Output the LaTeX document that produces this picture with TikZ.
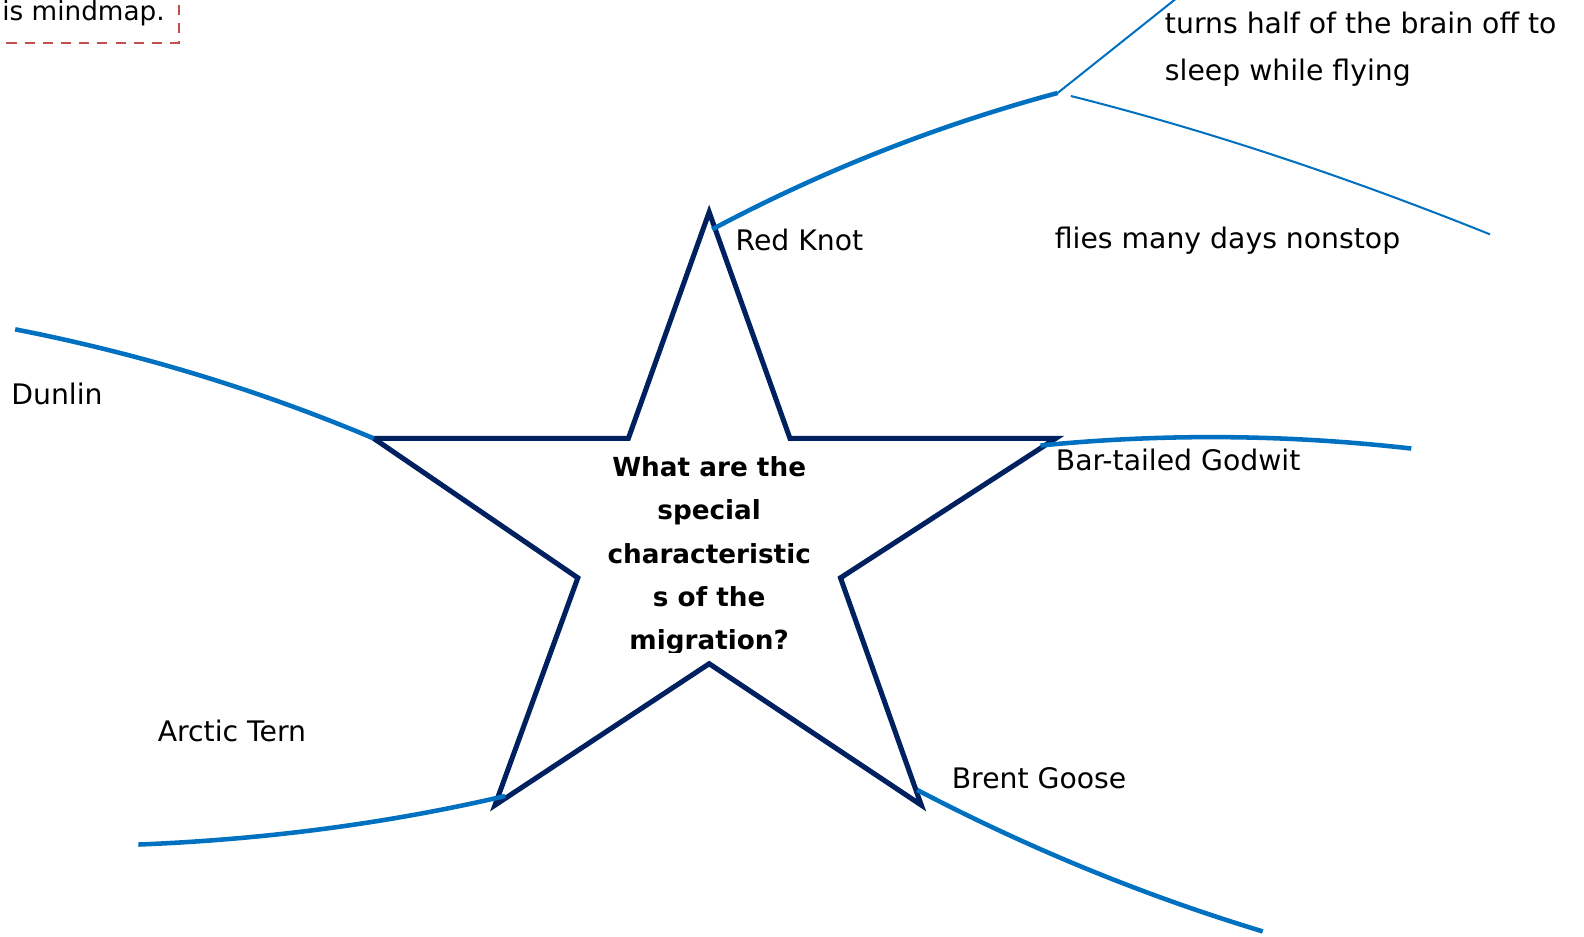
\documentclass[tikz,border=0pt]{standalone}
\usepackage{fontspec}
\setmainfont{DejaVu Sans}
\usetikzlibrary{calc}
\usetikzlibrary{positioning}
\definecolor{branchblue}{RGB}{0,112,192}
\definecolor{starnavy}{RGB}{0,32,96}
\definecolor{notered}{RGB}{192,80,77}

\begin{document}
\begin{tikzpicture}[x=1pt,y=-1pt, every node/.style={font=\fontsize{28}{46}\selectfont}]
    \tikzset{branch/.style={draw=branchblue,line width=4.5pt}}
    \tikzset{twig/.style={draw=branchblue,line width=2pt}}
    \tikzset{starline/.style={draw=starnavy,line width=5pt,line join=miter}}
    \tikzset{leaf/.style={anchor=base west,inner sep=0pt}}
    \tikzset{question/.style={anchor=north,inner sep=0pt,align=center,font=\fontsize{26}{42.75}\selectfont\bfseries}}
    \tikzset{noteframe/.style={draw=notered,line width=2pt,dash pattern=on 10pt off 8pt,inner xsep=14pt,inner ysep=17pt,font=\fontsize{26}{40}\selectfont}}
    \useasboundingbox (0,0) rectangle (1568,927);
    \clip (0,0) rectangle (1568,927);

    % Star
    \coordinate (sTop) at (702,210);
    \coordinate (sUL) at (622,434);
    \coordinate (sLeft) at (370,434);
    \coordinate (sLL) at (572,572);
    \coordinate (sBotL) at (490,797);
    \coordinate (sBot) at (702,657);
    \coordinate (sBotR) at (912,797);
    \coordinate (sLR) at (832,572);
    \coordinate (sRight) at (1045,434);
    \coordinate (sUR) at (782,434);
    \draw[starline] (sTop) -- (sUL) -- (sLeft) -- (sLL) -- (sBotL) -- (sBot)
        -- (sBotR) -- (sLR) -- (sRight) -- (sUR) -- cycle;

    \begin{scope}
      \clip (560,440) rectangle (845,646);
      \node[question] (center) at (702,452) {What are the\\special\\characteristic\\s of the\\migration?};
    \end{scope}

    % Branches
    \coordinate (knotStart) at (705,227);
    \coordinate (knotFork) at (1047,92);
    \coordinate (dunlinEnd) at (15,326);
    \coordinate (godwitStart) at (1030,441);
    \coordinate (godwitEnd) at (1397,444);
    \coordinate (ternStart) at (500,788);
    \coordinate (ternEnd) at (137,836);
    \coordinate (gooseStart) at (908,782);
    \coordinate (gooseEnd) at (1250,922);
    \coordinate (brainEnd) at (1165,-2);
    \coordinate (nonstopStart) at (1060,95);
    \coordinate (nonstopEnd) at (1475,232);

    \draw[branch] (knotStart) .. controls (814,169) and (928,124) .. (knotFork);
    \draw[twig] (knotFork) -- (brainEnd);
    \draw[twig] (nonstopStart) .. controls (1195,129) and (1333,175) .. (nonstopEnd);
    \draw[branch] (sLeft) .. controls (256,386) and (138,350) .. (dunlinEnd);
    \draw[branch] (godwitStart) .. controls (1152,429) and (1274,430) .. (godwitEnd);
    \draw[branch] (ternStart) .. controls (384,815) and (263,831) .. (ternEnd);
    \draw[branch] (gooseStart) .. controls (1017,839) and (1131,886) .. (gooseEnd);

    % Labels
    \node[leaf] (redknot) at (728,248) {Red Knot};
    \node[leaf] (nonstop) at (1044,246) {flies many days nonstop};
    \node[leaf,anchor=north west,align=left] (brain) at (1153,12) {turns half of the brain off to\\sleep while flying};
    \node[leaf] (dunlin) at (11,400) {Dunlin};
    \node[leaf] (godwit) at (1045,466) {Bar-tailed Godwit};
    \node[leaf] (tern) at (156,734) {Arctic Tern};
    \node[leaf] (goose) at (942,781) {Brent Goose};

    % Note
    \node[noteframe,anchor=base east] (note) at (178,20) {is mindmap.};
\end{tikzpicture}
\end{document}
